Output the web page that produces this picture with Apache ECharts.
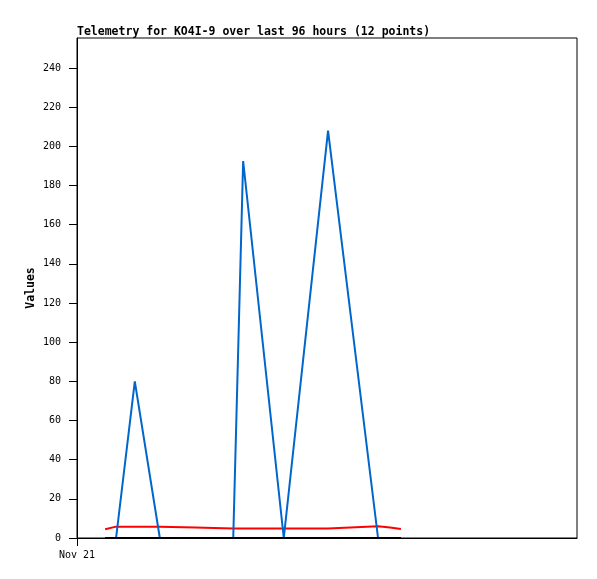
<!DOCTYPE html>
<html>
<head>
<meta charset="utf-8">
<script src="https://cdn.jsdelivr.net/npm/echarts@6/dist/echarts.min.js"></script>
<style>
html,body{margin:0;padding:0;background:#fff;}
#chart{width:597px;height:579px;}
</style>
</head>
<body>
<div id="chart"></div>
<script>
// hours since Nov 21 00:00
const hours = [5.4, 7.5, 11.1, 15.9, 22.7, 30.0, 31.9, 39.7, 48.2, 57.8, 60.1, 62.2];
const blueValues = [0, 0, 80, 0, 0, 0, 192.5, 0, 208, 0, 0, 0];
const redValues = [4.5, 5.8, 5.8, 5.8, 5.3, 4.8, 4.8, 4.8, 4.8, 6.0, 5.4, 4.6];
const blackValues = [0, 0, 0, 0, 0, 0, 0, 0, 0, 0, 0, 0];
const xTickLabels = ['Nov 21'];
const xTickHours = [0];
const title = 'Telemetry for KO4I-9 over last 96 hours (12 points)';
const yName = 'Values';

const pair = vals => hours.map((h, i) => [h, vals[i]]);
const mono = '"DejaVu Sans Mono", monospace';

const chart = echarts.init(document.getElementById('chart'), null, {renderer: 'canvas'});
chart.setOption({
  animation: false,
  backgroundColor: '#ffffff',
  title: {
    text: title, left: 77, top: 26, padding: 0,
    textStyle: {fontFamily: mono, fontSize: 11.5, fontWeight: 'bold', color: '#000'}
  },
  grid: {left: 77, right: 20, top: 38, bottom: 41, show: true, borderColor: '#000', borderWidth: 1, backgroundColor: 'transparent'},
  xAxis: {
    type: 'value', min: 0, max: 96, interval: 96,
    axisLine: {lineStyle: {color: '#000', width: 1}},
    axisTick: {show: true, length: 8, lineStyle: {color: '#000'}, customValues: xTickHours},
    splitLine: {show: false},
    axisLabel: {
      fontFamily: mono, fontSize: 10, color: '#000', margin: 12,
      customValues: xTickHours,
      formatter: v => v === 0 ? xTickLabels[0] : ''
    }
  },
  yAxis: {
    type: 'value', min: 0, max: 255.3, interval: 20,
    name: yName, nameLocation: 'middle', nameGap: 40, nameMoveOverlap: false,
    nameTextStyle: {fontFamily: mono, fontSize: 11.5, fontWeight: 'bold', color: '#000'},
    axisLine: {show: true, lineStyle: {color: '#000', width: 1}},
    axisTick: {show: true, length: 8, lineStyle: {color: '#000'}},
    splitLine: {show: false},
    axisLabel: {fontFamily: mono, fontSize: 10, color: '#000', margin: 16, showMaxLabel: false,
      formatter: v => (v % 20 === 0 ? String(v) : '')}
  },
  series: [
    {type: 'line', data: pair(redValues), symbol: 'none', z: 2,
     lineStyle: {color: '#ff0000', width: 2}},
    {type: 'line', data: pair(blueValues), symbol: 'none', z: 3,
     lineStyle: {color: '#0066cc', width: 2}},
    {type: 'line', data: pair(blackValues), symbol: 'none', z: 4,
     lineStyle: {color: '#000000', width: 2}}
  ]
});
</script>
</body>
</html>
